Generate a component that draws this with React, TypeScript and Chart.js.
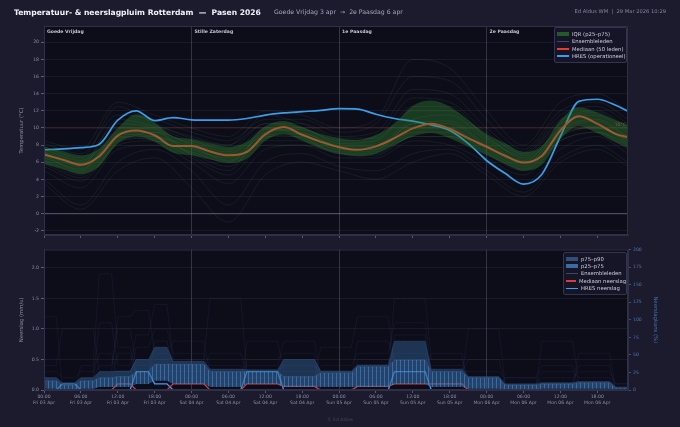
import React, { useEffect, useRef } from 'react';
import { Chart, registerables } from 'chart.js';

Chart.register(...registerables);

const FONT = "'DejaVu Sans', sans-serif";
const PAGE_BG = '#1b1b2d';
const PLOT_BG = '#0d0d1a';
const BORDER = '#2f2f48';
const TICK_COLOR = '#8d8da6';

// ---------- labels ----------
const TITLE = 'Temperatuur- & neerslagpluim Rotterdam  —  Pasen 2026';
const SUBTITLE = 'Goede Vrijdag 3 apr  →  2e Paasdag 6 apr';
const CREDIT = 'Ed Aldus WM  |  29 Mar 2026 10:29';
const FOOTER = '© Ed Aldus';
const DAY_NAMES = ['Goede Vrijdag', 'Stille Zaterdag', '1e Paasdag', '2e Paasdag'];
const DAY_TICK_LABELS = ['Fri 03 Apr', 'Sat 04 Apr', 'Sun 05 Apr', 'Mon 06 Apr'];
const TEMP_REF_ZERO = 0;
const TEMP_REF_TEN = 10;

// ---------- tick values ----------
const TIME_TICKS = [0, 6, 12, 18, 24, 30, 36, 42, 48, 54, 60, 66, 72, 78, 84, 90];
const TEMP_Y_TICKS = [-2, 0, 2, 4, 6, 8, 10, 12, 14, 16, 18, 20];
const PRECIP_Y_TICKS = [0, 0.5, 1, 1.5, 2];
const PROB_TICKS = [0, 25, 50, 75, 100, 125, 150, 175, 200];

// ---------- temperature (°C), 3-hourly ----------
const TEMP_HOURS = [0, 3, 6, 9, 12, 15, 18, 21, 24, 27, 30, 33, 36, 39, 42, 45, 48, 51, 54, 57, 60, 63, 66, 69, 72, 75, 78, 81, 84, 87, 90, 93, 95];
const TEMP_MEDIAN = [6.9, 6.3, 5.7, 6.7, 9.1, 9.7, 9.15, 7.9, 7.9, 7.25, 6.8, 7.2, 9.25, 10.1, 9.2, 8.4, 7.75, 7.45, 7.85, 8.8, 9.95, 10.5, 9.9, 8.8, 7.8, 6.75, 5.95, 6.75, 9.7, 11.35, 10.5, 9.3, 8.9];
const TEMP_HRES = [7.45, 7.55, 7.7, 8.1, 10.9, 12.0, 10.85, 11.2, 10.95, 10.9, 10.9, 11.1, 11.5, 11.75, 11.9, 12.05, 12.25, 12.2, 11.6, 11.1, 10.8, 10.35, 9.7, 8.2, 6.2, 4.7, 3.45, 4.6, 9.0, 13.1, 13.35, 12.65, 11.95];
const TEMP_P25 = [5.8, 5.2, 4.6, 5.5, 8.2, 9.0, 8.4, 7.1, 6.8, 6.3, 5.9, 6.4, 8.5, 9.3, 8.5, 7.6, 7.0, 6.7, 7.0, 8.0, 9.0, 9.4, 8.8, 7.8, 6.8, 5.8, 5.0, 5.7, 8.7, 10.2, 9.4, 8.3, 7.7];
const TEMP_P75 = [7.8, 7.3, 6.8, 7.6, 10.0, 11.6, 10.6, 9.0, 8.7, 8.2, 7.8, 8.4, 10.2, 10.8, 10.1, 9.3, 8.8, 8.6, 9.2, 10.5, 12.6, 13.2, 12.5, 10.9, 9.3, 8.2, 7.2, 7.9, 10.9, 12.4, 11.8, 10.9, 10.4];

// ensemble members, 6-hourly
const MEMBER_HOURS = [0, 6, 12, 18, 24, 30, 36, 42, 48, 54, 60, 66, 72, 78, 84, 90, 95];
const TEMP_MEMBER_01 = [7.5, 6.2, 10.5, 10.0, 8.5, 7.5, 10.5, 10.0, 8.5, 9.0, 13.5, 13.0, 9.5, 7.0, 11.0, 12.0, 10.0];
const TEMP_MEMBER_02 = [6.0, 4.5, 8.5, 8.8, 7.0, 5.5, 8.5, 8.5, 7.0, 7.0, 9.0, 9.0, 7.0, 5.0, 8.5, 9.5, 8.0];
const TEMP_MEMBER_03 = [8.2, 7.0, 11.5, 11.0, 9.5, 8.5, 11.0, 11.0, 9.5, 10.5, 16.0, 15.5, 11.0, 7.5, 12.0, 13.0, 11.0];
const TEMP_MEMBER_04 = [5.0, 3.0, 7.5, 8.0, 6.0, 3.5, 7.5, 8.0, 6.5, 6.5, 8.5, 8.0, 6.0, 3.5, 7.5, 9.0, 7.0];
const TEMP_MEMBER_05 = [7.0, 5.8, 9.5, 9.5, 8.2, 7.2, 9.8, 9.5, 8.0, 8.0, 11.0, 11.5, 8.5, 6.0, 10.0, 11.0, 9.0];
const TEMP_MEMBER_06 = [4.0, 1.0, 6.0, 7.5, 5.0, 1.0, 6.0, 7.0, 5.5, 5.0, 7.0, 7.5, 5.0, 2.5, 6.5, 8.0, 6.0];
const TEMP_MEMBER_07 = [7.8, 6.5, 12.5, 10.5, 8.8, 8.0, 10.5, 10.5, 9.0, 9.5, 14.5, 14.0, 10.0, 7.2, 11.5, 12.5, 10.5];
const TEMP_MEMBER_08 = [6.5, 5.2, 8.8, 9.0, 7.5, 6.5, 9.0, 9.0, 7.5, 7.5, 10.0, 10.0, 7.5, 5.5, 9.5, 10.0, 8.5];
const TEMP_MEMBER_09 = [5.5, 3.8, 8.0, 8.5, 6.5, 4.5, 8.0, 8.0, 7.0, 6.8, 9.0, 9.0, 6.5, 4.5, 8.5, 9.5, 7.5];
const TEMP_MEMBER_10 = [8.5, 7.5, 13.0, 11.5, 10.0, 9.0, 12.0, 11.5, 10.0, 11.0, 18.0, 17.0, 12.0, 8.0, 13.0, 14.0, 12.0];
const TEMP_MEMBER_11 = [3.5, 0.5, 5.0, 6.5, 3.0, -1.0, 4.5, 6.0, 5.0, 4.0, 6.0, 7.0, 4.5, 2.0, 6.0, 7.5, 5.5];
const TEMP_MEMBER_12 = [7.2, 6.0, 10.0, 9.8, 8.0, 7.0, 9.5, 9.8, 8.2, 8.5, 12.0, 12.0, 9.0, 6.5, 10.5, 11.5, 9.5];
const TEMP_MEMBER_13 = [6.2, 4.8, 9.0, 8.5, 7.2, 6.0, 9.2, 8.8, 7.2, 7.2, 9.5, 9.5, 7.2, 5.2, 9.0, 10.2, 8.2];
const TEMP_MEMBER_14 = [5.8, 4.2, 8.2, 9.5, 6.8, 5.0, 10.0, 9.2, 7.8, 7.8, 10.5, 10.8, 8.0, 6.2, 9.8, 10.8, 8.8];
const TEMP_MEMBER_15 = [7.0, 5.5, 11.0, 10.2, 9.0, 8.0, 11.5, 10.5, 8.8, 8.8, 12.5, 12.5, 8.8, 6.8, 10.8, 11.8, 9.8];
const TEMP_MEMBER_16 = [6.8, 5.0, 9.3, 9.0, 7.8, 6.2, 8.8, 9.3, 7.8, 7.5, 10.5, 10.5, 7.8, 5.8, 9.2, 10.0, 8.6];
const TEMP_MEMBERS = [TEMP_MEMBER_01, TEMP_MEMBER_02, TEMP_MEMBER_03, TEMP_MEMBER_04, TEMP_MEMBER_05, TEMP_MEMBER_06, TEMP_MEMBER_07, TEMP_MEMBER_08, TEMP_MEMBER_09, TEMP_MEMBER_10, TEMP_MEMBER_11, TEMP_MEMBER_12, TEMP_MEMBER_13, TEMP_MEMBER_14, TEMP_MEMBER_15, TEMP_MEMBER_16];

// ---------- precipitation (mm/u), one value per 3-hour block ----------
const PRECIP_HOURS = Array.from({ length: 96 }, (_, h) => h);
const PRECIP_HRES = [0, 0.1, 0, 0, 0, 0.3, 0.1, 0, 0, 0, 0, 0.3, 0.3, 0, 0, 0, 0, 0, 0, 0.3, 0.3, 0, 0, 0, 0, 0, 0, 0, 0, 0, 0, 0];
const PRECIP_MEDIAN = [0, 0, 0, 0, 0.1, 0, 0, 0.1, 0.1, 0, 0, 0.1, 0.1, 0.06, 0.06, 0, 0, 0.06, 0.06, 0.1, 0.1, 0.1, 0.1, 0, 0, 0, 0, 0, 0, 0, 0, 0];
const PRECIP_P25 = [0.02, 0, 0.02, 0.05, 0.05, 0.1, 0.15, 0.1, 0.1, 0.05, 0.05, 0.1, 0.1, 0.05, 0.05, 0.05, 0.05, 0.05, 0.05, 0.1, 0.1, 0.05, 0.05, 0.02, 0.02, 0.01, 0.01, 0.02, 0.02, 0.02, 0.02, 0];
const PRECIP_P75 = [0.15, 0.08, 0.15, 0.2, 0.22, 0.3, 0.42, 0.42, 0.42, 0.3, 0.3, 0.3, 0.3, 0.22, 0.22, 0.28, 0.28, 0.38, 0.38, 0.49, 0.49, 0.3, 0.3, 0.2, 0.2, 0.08, 0.08, 0.1, 0.1, 0.12, 0.12, 0.03];
const PRECIP_P90 = [0.2, 0.12, 0.2, 0.3, 0.31, 0.5, 0.7, 0.47, 0.47, 0.34, 0.34, 0.33, 0.33, 0.5, 0.5, 0.31, 0.31, 0.41, 0.41, 0.8, 0.8, 0.34, 0.34, 0.22, 0.22, 0.1, 0.1, 0.12, 0.12, 0.14, 0.14, 0.05];
const PRECIP_MEMBER_1 = [1.2, 0.0, 0.4, 1.9, 0.7, 0.3, 0.5, 0.2, 0.2, 0.1, 0.1, 0.8, 0.8, 0.3, 0.3, 0.1, 0.1, 0.4, 0.4, 0.6, 0.6, 0.2, 0.2, 1.0, 1.0, 0.1, 0.1, 0.3, 0.3, 0.2, 0.2, 0.0];
const PRECIP_MEMBER_2 = [0.4, 1.0, 1.0, 0.3, 1.2, 1.3, 0.6, 0.8, 0.8, 0.3, 0.3, 0.4, 0.4, 0.8, 0.8, 0.2, 0.2, 0.3, 0.3, 1.5, 1.5, 0.5, 0.5, 0.2, 0.2, 0.0, 0.0, 0.8, 0.8, 0.1, 0.1, 0.1];
const PRECIP_MEMBER_3 = [0.2, 0.1, 0.2, 1.1, 0.4, 0.9, 1.4, 0.5, 0.5, 1.5, 1.5, 0.3, 0.3, 0.2, 0.2, 0.7, 0.7, 1.2, 1.2, 0.4, 0.4, 0.3, 0.3, 0.3, 0.3, 0.2, 0.2, 0.1, 0.1, 0.6, 0.6, 0.0];
const PRECIP_MEMBER_4 = [0.0, 0.0, 0.1, 0.3, 0.3, 0.5, 0.3, 0.3, 0.3, 0.2, 0.2, 0.2, 0.2, 0.5, 0.5, 0.3, 0.3, 0.2, 0.2, 0.9, 0.9, 0.1, 0.1, 0.1, 0.1, 0.0, 0.0, 0.0, 0.0, 0.1, 0.1, 0.0];
const PRECIP_MEMBER_5 = [0.1, 0.0, 0.0, 0.2, 0.6, 0.2, 0.8, 0.4, 0.4, 0.4, 0.4, 0.2, 0.2, 0.1, 0.1, 0.4, 0.4, 0.6, 0.6, 1.1, 1.1, 0.3, 0.3, 0.5, 0.5, 0.1, 0.1, 0.2, 0.2, 0.3, 0.3, 0.1];
const PRECIP_MEMBER_6 = [0.3, 0.2, 0.3, 0.6, 0.2, 0.7, 1.0, 0.6, 0.6, 0.1, 0.1, 0.5, 0.5, 0.6, 0.6, 0.0, 0.0, 0.5, 0.5, 0.3, 0.3, 0.6, 0.6, 0.0, 0.0, 0.2, 0.2, 0.4, 0.4, 0.0, 0.0, 0.0];
const PRECIP_MEMBER_7 = [0.0, 0.1, 0.0, 0.1, 0.1, 0.1, 0.2, 0.1, 0.1, 0.0, 0.0, 0.1, 0.1, 0.2, 0.2, 0.1, 0.1, 0.1, 0.1, 0.2, 0.2, 0.0, 0.0, 0.1, 0.1, 0.0, 0.0, 0.1, 0.1, 0.0, 0.0, 0.0];
const PRECIP_MEMBER_8 = [0.2, 0.0, 0.2, 0.4, 1.0, 0.4, 0.2, 0.3, 0.3, 0.6, 0.6, 0.3, 0.3, 0.4, 0.4, 0.2, 0.2, 0.8, 0.8, 0.5, 0.5, 0.4, 0.4, 0.2, 0.2, 0.0, 0.0, 0.1, 0.1, 0.4, 0.4, 0.0];
const PRECIP_MEMBERS = [PRECIP_MEMBER_1, PRECIP_MEMBER_2, PRECIP_MEMBER_3, PRECIP_MEMBER_4, PRECIP_MEMBER_5, PRECIP_MEMBER_6, PRECIP_MEMBER_7, PRECIP_MEMBER_8];

// ---------- helpers ----------
const pts = (xs: number[], ys: number[]) => xs.map((x, i) => ({ x, y: ys[i] }));
const hourly = (blocks: number[]) => pts(PRECIP_HOURS, PRECIP_HOURS.map((h) => blocks[Math.floor(h / 3)]));
const pad2 = (n: number) => (n < 10 ? '0' + n : '' + n);
const fixedTicks = (values: number[]) => (s: any) => { s.ticks = values.map((value) => ({ value })); };

const frame = {
  id: 'frame',
  beforeDraw(chart: any) {
    const { ctx, chartArea: a } = chart;
    ctx.save();
    ctx.fillStyle = PLOT_BG;
    ctx.fillRect(a.left, a.top, a.width, a.height);
    ctx.restore();
  },
  afterDraw(chart: any) {
    const { ctx, chartArea: a } = chart;
    ctx.save();
    ctx.strokeStyle = BORDER;
    ctx.lineWidth = 1;
    ctx.strokeRect(a.left + 0.5, a.top + 0.5, a.width - 1, a.height - 1);
    ctx.restore();
  },
};

const tempDecor = {
  id: 'tempDecor',
  beforeDatasetsDraw(chart: any) {
    const { ctx, chartArea: a, scales } = chart;
    ctx.save();
    let py = scales.y.getPixelForValue(TEMP_REF_ZERO);
    ctx.strokeStyle = 'rgba(140,140,170,0.45)';
    ctx.lineWidth = 1.2;
    ctx.beginPath(); ctx.moveTo(a.left, py); ctx.lineTo(a.right, py); ctx.stroke();
    py = scales.y.getPixelForValue(TEMP_REF_TEN);
    ctx.strokeStyle = 'rgba(190,70,70,0.35)';
    ctx.lineWidth = 0.8;
    ctx.beginPath(); ctx.moveTo(a.left, py); ctx.lineTo(a.right, py); ctx.stroke();
    ctx.restore();
  },
  afterDatasetsDraw(chart: any) {
    const { ctx, chartArea: a, scales } = chart;
    ctx.save();
    ctx.font = `bold 4.6px ${FONT}`;
    ctx.fillStyle = '#c4c4d6';
    ctx.textBaseline = 'top';
    DAY_NAMES.forEach((name, d) => {
      ctx.fillText(name, scales.x.getPixelForValue(d * 24) + 3, a.top + 3);
    });
    ctx.font = `4.6px ${FONT}`;
    ctx.fillStyle = 'rgba(200,120,70,0.5)';
    ctx.textAlign = 'right';
    ctx.textBaseline = 'bottom';
    ctx.fillText('10°C', a.right - 2, scales.y.getPixelForValue(TEMP_REF_TEN) - 1);
    ctx.restore();
  },
};

const dayGrid = (c: any) =>
  c.tick && c.tick.value > 0 && c.tick.value % 24 === 0 ? 'rgba(150,150,180,0.28)' : 'rgba(0,0,0,0)';

const tickFont = { family: FONT, size: 4.6 };

function TempChart() {
  const ref = useRef<HTMLCanvasElement>(null);
  useEffect(() => {
    const members = TEMP_MEMBERS.map((m, i) => ({
      label: i === 0 ? 'Ensembleleden' : '',
      data: pts(MEMBER_HOURS, m),
      borderColor: 'rgba(110,170,115,0.2)',
      borderWidth: 0.5,
      cubicInterpolationMode: 'monotone' as const,
      fill: false,
    }));
    const chart = new Chart(ref.current!, {
      type: 'line',
      data: {
        datasets: [
          ...members,
          { label: 'p25', data: pts(TEMP_HOURS, TEMP_P25), borderWidth: 0, borderColor: 'rgba(0,0,0,0)', cubicInterpolationMode: 'monotone', fill: false },
          { label: 'IQR (p25–p75)', data: pts(TEMP_HOURS, TEMP_P75), borderWidth: 0, borderColor: 'rgba(0,0,0,0)', backgroundColor: 'rgba(48,128,48,0.4)', cubicInterpolationMode: 'monotone', fill: '-1' },
          { label: 'Mediaan  (50 leden)', data: pts(TEMP_HOURS, TEMP_MEDIAN), borderColor: '#ec3a2c', borderWidth: 2, cubicInterpolationMode: 'monotone', fill: false },
          { label: 'HRES (operationeel)', data: pts(TEMP_HOURS, TEMP_HRES), borderColor: '#3a9eea', borderWidth: 1.7, cubicInterpolationMode: 'monotone', fill: false },
        ] as any,
      },
      options: {
        responsive: false,
        animation: false,
        layout: { padding: { left: 16, right: 52, top: 26, bottom: 0 } },
        elements: { point: { radius: 0 } },
        plugins: { legend: { display: false }, tooltip: { enabled: false } },
        scales: {
          x: {
            type: 'linear', min: 0, max: 95,
            afterFit: (s: any) => { s.height = 7; },
            afterBuildTicks: fixedTicks(TIME_TICKS),
            ticks: { display: false },
            grid: { color: dayGrid, tickColor: '#5a5a74', tickLength: 3 },
            border: { color: BORDER },
          },
          y: {
            min: -2.5, max: 21.9,
            afterFit: (s: any) => { s.width = 28; },
            afterBuildTicks: fixedTicks(TEMP_Y_TICKS),
            ticks: { color: TICK_COLOR, font: tickFont, padding: 2 },
            grid: { color: 'rgba(255,255,255,0.055)', tickColor: '#5a5a74', tickLength: 3 },
            border: { color: BORDER },
            title: { display: true, text: 'Temperatuur (°C)', color: TICK_COLOR, font: { family: FONT, size: 5.3 }, padding: { top: 2, bottom: 2 } },
          },
        },
      } as any,
      plugins: [frame, tempDecor],
    });
    return () => chart.destroy();
  }, []);
  return <canvas ref={ref} width={680} height={242} style={{ position: 'absolute', left: 0, top: 0, width: 680, height: 242 }} />;
}

function PrecipChart() {
  const ref = useRef<HTMLCanvasElement>(null);
  useEffect(() => {
    const canvas = ref.current!;
    const pc = document.createElement('canvas');
    pc.width = 4; pc.height = 4;
    const g = pc.getContext('2d')!;
    g.fillStyle = 'rgba(50,102,160,0.6)';
    g.fillRect(0, 0, 4, 4);
    g.fillStyle = 'rgba(105,160,215,0.42)';
    g.fillRect(0, 0, 1, 4);
    const pattern = canvas.getContext('2d')!.createPattern(pc, 'repeat');

    const members = PRECIP_MEMBERS.map((m, i) => ({
      label: i === 0 ? 'Ensembleleden' : '',
      data: hourly(m),
      borderColor: 'rgba(95,115,160,0.2)',
      borderWidth: 0.5,
      fill: false,
    }));
    const chart = new Chart(canvas, {
      type: 'line',
      data: {
        datasets: [
          ...members,
          { label: 'p25', data: hourly(PRECIP_P25), borderWidth: 0, borderColor: 'rgba(0,0,0,0)', fill: false },
          { label: 'p25–p75', data: hourly(PRECIP_P75), borderWidth: 0.6, borderColor: 'rgba(90,140,200,0.45)', backgroundColor: pattern, fill: '-1' },
          { label: 'p75–p90', data: hourly(PRECIP_P90), borderWidth: 0.6, borderColor: 'rgba(70,110,160,0.45)', backgroundColor: 'rgba(42,78,122,0.6)', fill: '-1' },
          { label: 'Mediaan neerslag', data: hourly(PRECIP_MEDIAN), borderColor: '#d93c3c', borderWidth: 1.3, fill: false },
          { label: 'HRES neerslag', data: hourly(PRECIP_HRES), borderColor: '#3aa2f2', borderWidth: 1.3, fill: false },
        ] as any,
      },
      options: {
        responsive: false,
        animation: false,
        layout: { padding: { left: 16, right: 19, top: 7.5, bottom: 0 } },
        elements: { point: { radius: 0 }, line: { tension: 0 } },
        plugins: { legend: { display: false }, tooltip: { enabled: false } },
        scales: {
          x: {
            type: 'linear', min: 0, max: 95,
            afterFit: (s: any) => { s.height = 37; },
            afterBuildTicks: fixedTicks(TIME_TICKS),
            ticks: {
              color: TICK_COLOR, font: { family: FONT, size: 4.6, lineHeight: 1.3 }, padding: 1, maxRotation: 0, autoSkip: false,
              callback: (v: any) => [pad2(Number(v) % 24) + ':00', DAY_TICK_LABELS[Math.floor(Number(v) / 24)]],
            },
            grid: { color: dayGrid, tickColor: '#5a5a74', tickLength: 3 },
            border: { color: BORDER },
          },
          y: {
            min: 0, max: 2.3,
            afterFit: (s: any) => { s.width = 28; },
            afterBuildTicks: fixedTicks(PRECIP_Y_TICKS),
            ticks: { color: TICK_COLOR, font: tickFont, padding: 2, callback: (v: any) => Number(v).toFixed(1) },
            grid: { color: 'rgba(255,255,255,0.055)', tickColor: '#5a5a74', tickLength: 3 },
            border: { color: BORDER },
            title: { display: true, text: 'Neerslag (mm/u)', color: TICK_COLOR, font: { family: FONT, size: 5.3 }, padding: { top: 2, bottom: 2 } },
          },
          y1: {
            position: 'right', min: 0, max: 200,
            afterFit: (s: any) => { s.width = 33; },
            afterBuildTicks: fixedTicks(PROB_TICKS),
            ticks: { color: '#5273a6', font: tickFont, padding: 2 },
            grid: { drawOnChartArea: false, tickColor: '#3f4f70', tickLength: 3 },
            border: { color: BORDER },
            title: { display: true, text: 'Neerslagkans (%)', color: '#4a6ca3', font: { family: FONT, size: 5.3 }, padding: { top: 2, bottom: 2 } },
          },
        },
      } as any,
      plugins: [frame],
    });
    return () => chart.destroy();
  }, []);
  return <canvas ref={ref} width={680} height={185} style={{ position: 'absolute', left: 0, top: 242, width: 680, height: 185 }} />;
}

type LegendItem = { label: string; kind: 'box' | 'line'; color: string; h: number };

const TEMP_LEGEND: LegendItem[] = [
  { label: 'IQR (p25–p75)', kind: 'box', color: 'rgba(44,118,44,0.7)', h: 4 },
  { label: 'Ensembleleden', kind: 'line', color: 'rgba(70,85,115,0.8)', h: 1 },
  { label: 'Mediaan  (50 leden)', kind: 'line', color: '#ec3a2c', h: 1.6 },
  { label: 'HRES (operationeel)', kind: 'line', color: '#3a9eea', h: 1.6 },
];
const PRECIP_LEGEND: LegendItem[] = [
  { label: 'p75–p90', kind: 'box', color: 'rgba(48,82,125,0.95)', h: 4 },
  { label: 'p25–p75', kind: 'box', color: 'rgba(62,112,170,0.95)', h: 4 },
  { label: 'Ensembleleden', kind: 'line', color: 'rgba(70,85,115,0.8)', h: 1 },
  { label: 'Mediaan neerslag', kind: 'line', color: '#d93c3c', h: 1.4 },
  { label: 'HRES neerslag', kind: 'line', color: '#3aa2f2', h: 1.4 },
];

function Legend({ items, left, top, width, rowH }: { items: LegendItem[]; left: number; top: number; width: number; rowH: number }) {
  return (
    <div style={{ position: 'absolute', left, top, width, padding: '2px 0 2px 0', background: 'rgba(22,22,40,0.92)', border: '1px solid #34344f', borderRadius: 2, boxSizing: 'border-box' }}>
      {items.map((it) => (
        <div key={it.label} style={{ display: 'flex', alignItems: 'center', height: rowH }}>
          <div style={{ width: 12, marginLeft: 2, marginRight: 3, height: it.h, background: it.color }} />
          <span style={{ font: `5.3px ${FONT}`, color: '#cfd0e0', whiteSpace: 'nowrap' }}>{it.label}</span>
        </div>
      ))}
    </div>
  );
}

export default function App() {
  return (
    <div style={{ position: 'fixed', left: 0, top: 0, width: 680, height: 427, background: PAGE_BG, overflow: 'hidden', fontFamily: FONT }}>
      <TempChart />
      <PrecipChart />
      <div style={{ position: 'absolute', left: 14, top: 8, lineHeight: '12px', whiteSpace: 'pre', color: '#f2f2fa', font: `bold 7.6px ${FONT}` }}>{TITLE}</div>
      <div style={{ position: 'absolute', left: 274, top: 8, lineHeight: '12px', whiteSpace: 'pre', color: '#a6a6bf', font: `6.2px ${FONT}` }}>{SUBTITLE}</div>
      <div style={{ position: 'absolute', right: 14, top: 8, lineHeight: '12px', whiteSpace: 'pre', color: '#85859e', font: `5.2px ${FONT}` }}>{CREDIT}</div>
      <Legend items={TEMP_LEGEND} left={554} top={27} width={73} rowH={7.5} />
      <Legend items={PRECIP_LEGEND} left={563} top={252} width={64} rowH={7.4} />
      <div style={{ position: 'absolute', left: 0, width: 680, top: 416, textAlign: 'center', color: '#45455c', font: `4.6px ${FONT}`, lineHeight: '8px' }}>{FOOTER}</div>
    </div>
  );
}
